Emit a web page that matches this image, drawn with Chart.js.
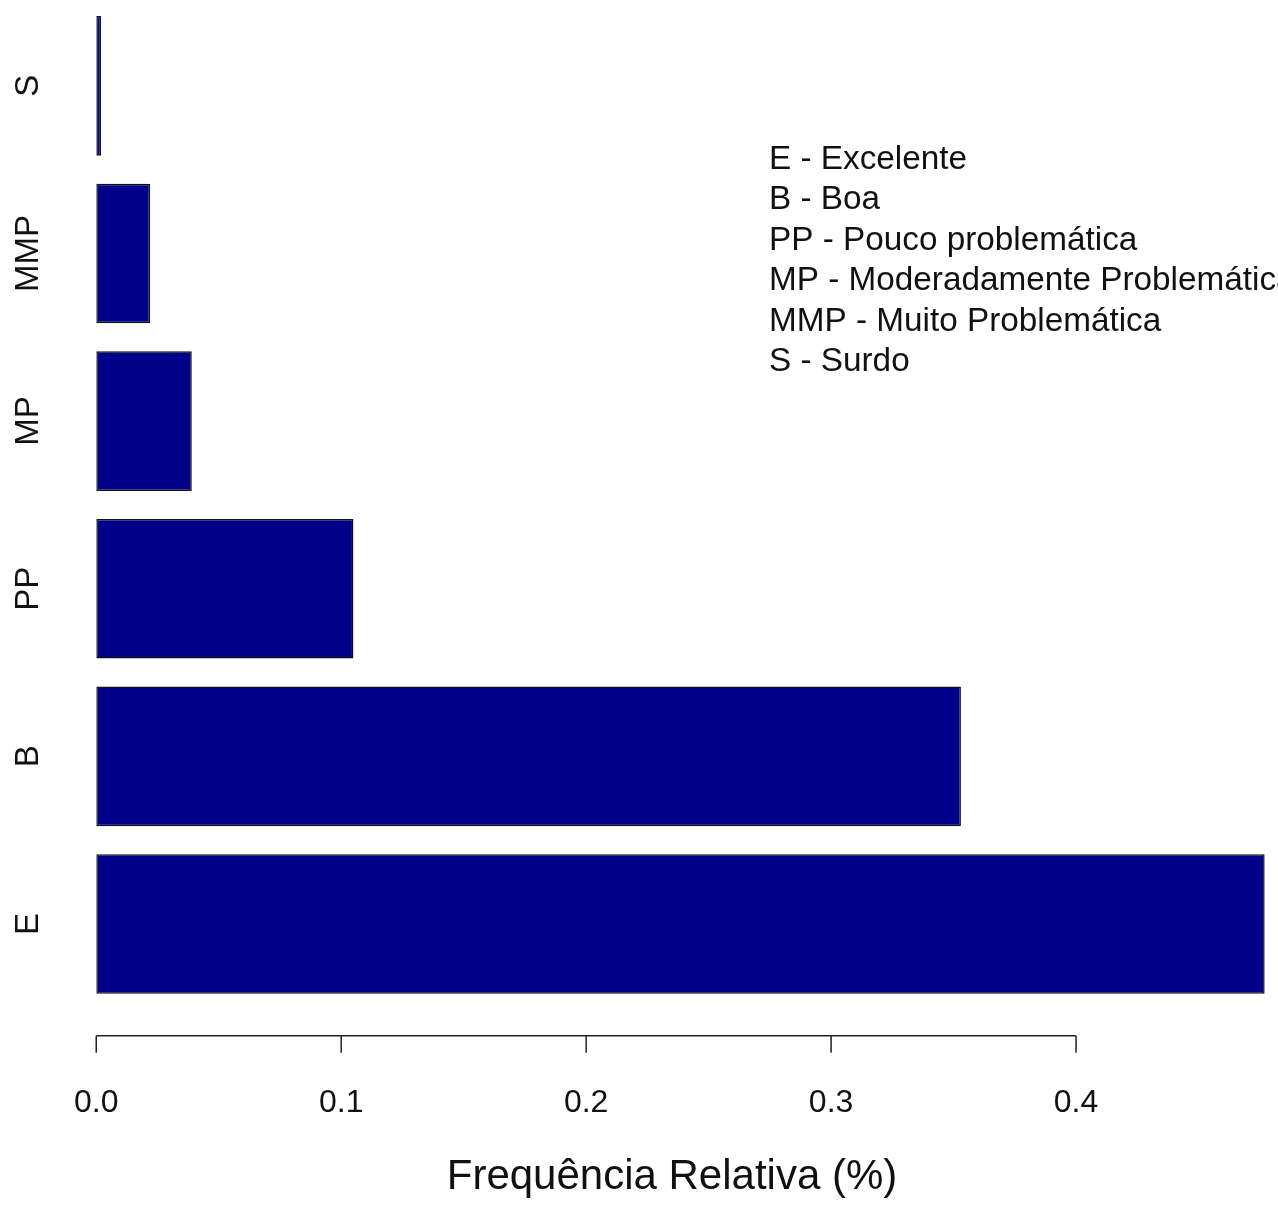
<!DOCTYPE html>
<html>
<head>
<meta charset="utf-8">
<script src="https://cdn.jsdelivr.net/npm/chart.js@4"></script>
<style>
  body { margin: 0; background: #fff; }
  canvas { display: block; }
</style>
</head>
<body>
<canvas id="freqChart" width="1278" height="1211"></canvas>
<script>
// categories top to bottom, as in the R barplot (E at the bottom)
const categories = ["S", "MMP", "MP", "PP", "B", "E"];
const frequencies = [0.002, 0.022, 0.039, 0.105, 0.353, 0.477];
const tickValues = [0, 0.1, 0.2, 0.3, 0.4];
const legendLines = [
    "E - Excelente",
    "B - Boa",
    "PP - Pouco problemática",
    "MP - Moderadamente Problemática",
    "MMP - Muito Problemática",
    "S - Surdo"
];
const xTitle = "Frequência Relativa (%)";

const fontFamily = "'Liberation Sans', Arial, sans-serif";

// R style axis: line only from first to last tick, ticks pointing down
const rAxisPlugin = {
    id: "rAxis",
    afterDraw(chart) {
        const ctx = chart.ctx;
        const x = chart.scales.x;
        const y = chart.scales.y;
        const axisY = chart.chartArea.bottom + 28;

        ctx.save();
        ctx.strokeStyle = "#222";
        ctx.lineWidth = 1.5;
        ctx.beginPath();
        ctx.moveTo(x.getPixelForValue(tickValues[0]), axisY);
        ctx.lineTo(x.getPixelForValue(tickValues[tickValues.length - 1]), axisY);
        tickValues.forEach(v => {
            const px = x.getPixelForValue(v);
            ctx.moveTo(px, axisY);
            ctx.lineTo(px, axisY + 17);
        });
        ctx.stroke();

        // category names, rotated like R's default
        ctx.fillStyle = "#111";
        ctx.font = "33px " + fontFamily;
        ctx.textAlign = "center";
        ctx.textBaseline = "middle";
        categories.forEach((c, i) => {
            ctx.save();
            ctx.translate(29, y.getPixelForValue(i));
            ctx.rotate(-Math.PI / 2);
            ctx.fillText(c, 0, 0);
            ctx.restore();
        });

        // text legend, no symbols
        ctx.textAlign = "left";
        ctx.textBaseline = "alphabetic";
        ctx.font = "33.3px " + fontFamily;
        for (var i = 0; i < legendLines.length; i++) {
            ctx.fillText(legendLines[i], 769, 169 + i * 40.4);
        }

        // axis title, centred under the plot region like R does
        ctx.font = "42px " + fontFamily;
        ctx.textAlign = "center";
        ctx.textBaseline = "middle";
        ctx.fillText(xTitle, 672, 1177);
        ctx.restore();
    }
};

var ctx = document.getElementById("freqChart");
var freqChart = new Chart(ctx, {
    type: "bar",
    data: {
        labels: categories,
        datasets: [{
            data: frequencies,
            backgroundColor: "#00008B",
            borderColor: "#111",
            borderWidth: 1.5,
            borderSkipped: false,
            barPercentage: 0.833,
            categoryPercentage: 1.0
        }]
    },
    options: {
        indexAxis: "y",
        responsive: false,
        animation: false,
        // left edge comes from the x scale's own label padding (half label + tick padding)
        layout: { padding: { left: 0, top: 2, right: 0, bottom: 12 } },
        plugins: {
            legend: { display: false },
            tooltip: { enabled: false }
        },
        scales: {
            y: {
                display: false,
                offset: true
            },
            x: {
                min: 0,
                max: (1278 - 96) / 2450,
                grid: { display: false, drawTicks: false },
                border: { display: false },
                afterBuildTicks: (scale) => {
                    scale.ticks = tickValues.map(v => ({ value: v }));
                },
                ticks: {
                    padding: 74,
                    color: "#111",
                    font: { family: fontFamily, size: 32, lineHeight: 1.35 },
                    maxRotation: 0,
                    autoSkip: false,
                    callback: (v) => Number(v).toFixed(1)
                }
            }
        }
    },
    plugins: [rAxisPlugin]
});
</script>
</body>
</html>
